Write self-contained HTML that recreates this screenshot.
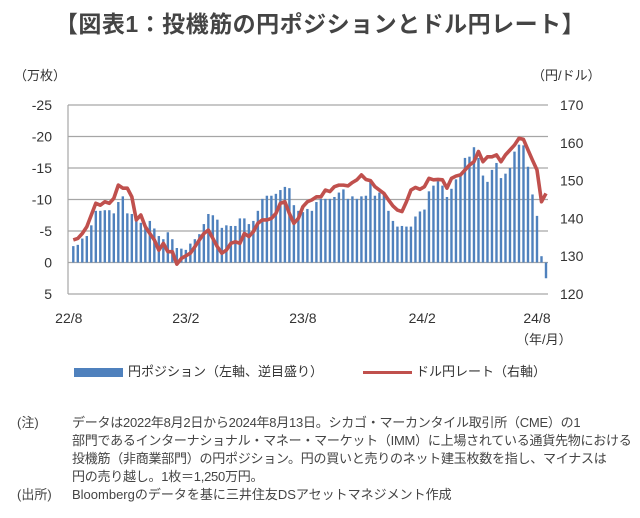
<!DOCTYPE html>
<html><head><meta charset="utf-8"><style>
body{margin:0;width:640px;height:518px;background:#fff;font-family:"Liberation Sans","Noto Sans CJK JP",sans-serif;color:#333;position:relative;overflow:hidden}
.t{position:absolute;white-space:nowrap}
</style></head><body>
<div class="t" style="left:0;width:640px;text-align:center;top:5px;font-size:23px;font-weight:bold;color:#444;letter-spacing:0.5px">【図表1：投機筋の円ポジションとドル円レート】</div>
<svg id="c" width="640" height="400" style="position:absolute;left:0;top:0" font-family="Liberation Sans, Noto Sans CJK JP, sans-serif"></svg>
<div class="t" style="left:74px;top:361px;font-size:13px"><span style="display:inline-block;width:49px;height:9px;background:#4f81bd;vertical-align:middle;margin-right:5px"></span>円ポジション（左軸、逆目盛り）</div>
<div class="t" style="left:363px;top:361px;font-size:13px"><span style="display:inline-block;width:49px;height:3px;background:#c0504d;vertical-align:middle;margin-right:4px"></span>ドル円レート（右軸）</div>
<div style="position:absolute;left:17px;top:414px;font-size:13px;line-height:18px;color:#444;white-space:nowrap">
<div style="display:flex"><span style="width:55px">(注)</span><span style="letter-spacing:-0.25px">データは2022年8月2日から2024年8月13日。シカゴ・マーカンタイル取引所（CME）の1<br>部門であるインターナショナル・マネー・マーケット（IMM）に上場されている通貨先物における<br>投機筋（非商業部門）の円ポジション。円の買いと売りのネット建玉枚数を指し、マイナスは<br>円の売り越し。1枚＝1,250万円。</span></div>
<div style="display:flex"><span style="width:55px">(出所)</span><span>Bloombergのデータを基に三井住友DSアセットマネジメント作成</span></div>
</div>
<script>
const posValues=[-2.6,-2.8,-3.8,-4.2,-5.9,-8.2,-8.2,-8.3,-8.3,-7.8,-9.6,-10.5,-7.8,-7.7,-6.9,-6.3,-5.8,-6.6,-5.4,-4.2,-3.7,-4.8,-3.7,-2.3,-2.2,-2.0,-3.0,-3.7,-4.5,-6.1,-7.7,-7.5,-6.8,-5.5,-5.9,-5.8,-5.8,-7.0,-7.0,-6.1,-6.6,-8.2,-10.1,-10.6,-10.6,-10.9,-11.5,-12.0,-11.8,-9.1,-8.2,-8.0,-8.5,
-8.2,-9.6,-10.1,-10.1,-10.1,-10.4,-11.1,-11.6,-10.1,-10.5,-10.1,-10.5,-10.6,-12.8,-10.6,-11.1,-10.8,-8.2,-6.6,-5.7,-5.8,-5.7,-5.7,-7.3,-8.1,-8.4,-11.3,-12.2,-12.9,-12.2,-10.4,-11.7,-13.2,-13.8,-16.6,-16.8,-18.3,-16.6,-13.8,-12.8,-14.7,-15.8,-13.4,-14.1,-15.0,-17.6,-18.7,-18.6,-15.2,-10.8,-7.4,-1.0,2.5];
const fxValues=[134.3,134.7,136.0,137.8,140.9,144.0,143.5,144.4,144.0,145.3,148.8,148.0,148.0,145.7,139.6,140.9,137.8,136.0,134.3,131.6,133.4,131.2,131.2,127.9,129.4,130.1,130.8,132.5,134.3,136.0,136.9,134.7,132.5,130.8,131.6,133.4,133.8,133.4,136.0,135.2,136.5,138.7,139.6,139.6,140.0,141.3,144.0,144.4,141.3,138.7,140.0,143.1,144.4,
144.9,145.7,145.7,147.5,147.1,148.4,148.8,148.8,148.6,149.5,150.2,151.5,150.3,150.0,148.4,147.5,146.6,144.9,143.3,142.2,141.8,144.4,147.5,148.2,147.7,148.4,150.6,150.2,150.3,150.2,148.0,150.6,151.2,151.5,152.8,154.1,155.0,157.7,155.0,156.3,156.3,156.8,155.0,156.8,158.1,159.4,161.2,160.9,158.1,155.4,152.8,144.4,146.6];
const leftTicks=["-25","-20","-15","-10","-5","0","5"];
const leftTickVals=[-25,-20,-15,-10,-5,0,5];
const rightTicks=["170","160","150","140","130","120"];
const rightTickVals=[170,160,150,140,130,120];
const xLabels=["22/8","23/2","23/8","24/2","24/8"];
const xLabelIdx=[-1,25,51,77.5,103];
const NS="http://www.w3.org/2000/svg",svg=document.getElementById('c');
const X0=68,X1=548,YT=105,YB=294;
const yL=v=>YT+(v+25)/30*(YB-YT);
const yR=v=>YT+(170-v)/50*(YB-YT);
const xI=i=>73.3+i*(546-73.3)/(posValues.length-1);
function mk(t,a){const e=document.createElementNS(NS,t);for(const k in a)e.setAttribute(k,a[k]);svg.appendChild(e);return e;}
leftTickVals.forEach((v,i)=>{const g=mk('line',{x1:X0,x2:X1,y1:yL(v),y2:yL(v),stroke:'#a6a6a6','stroke-width':1.2});


const t=mk('text',{x:52,y:yL(v)+5,'text-anchor':'end','font-size':14,fill:'#333'});t.textContent=leftTicks[i];

});
rightTickVals.forEach((v,i)=>{const t=mk('text',{x:560,y:yR(v)+5,'font-size':14,fill:'#333'});t.textContent=rightTicks[i];

});
const ax=mk('line',{x1:X0,x2:X0,y1:YT,y2:YB,stroke:'#a6a6a6','stroke-width':1.2});


posValues.forEach((v,i)=>{const y0=yL(0),y1=yL(v);const r=mk('rect',{x:xI(i)-1.2,y:Math.min(y0,y1),width:2.4,height:Math.abs(y1-y0),fill:'#4f81bd'});

});
const pl=mk('polyline',{points:fxValues.map((v,i)=>xI(i)+','+yR(v)).join(' '),fill:'none',stroke:'#c0504d','stroke-width':3.6,'stroke-linejoin':'round'});


xLabels.forEach((s,i)=>{const t=mk('text',{x:xI(xLabelIdx[i]),y:323,'text-anchor':'middle','font-size':14,fill:'#333'});t.textContent=s;

});
[[14,80,'（万枚）','left-axis-unit'],[532,80,'（円/ドル）','right-axis-unit'],[516,344,'（年/月）','x-axis-unit']].forEach(a=>{const t=mk('text',{x:a[0],y:a[1],'font-size':13,fill:'#333'});t.textContent=a[2];

});
</script>
</body></html>
